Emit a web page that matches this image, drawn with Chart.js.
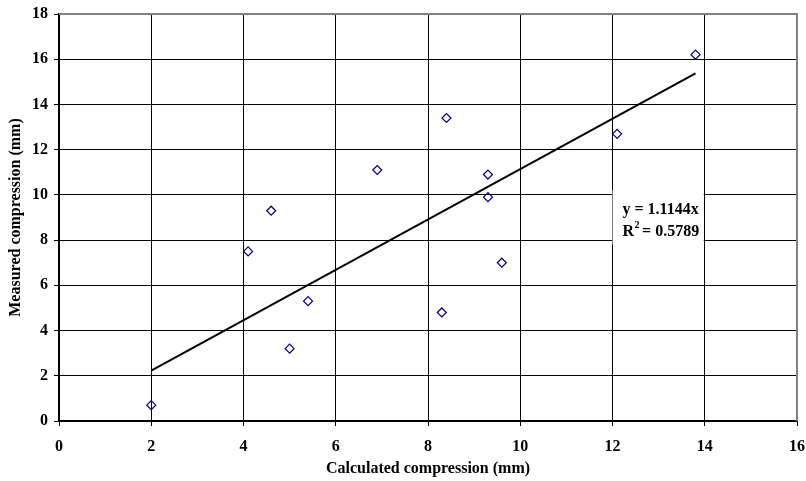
<!DOCTYPE html>
<html lang="en">
  <head>
    <meta charset="UTF-8" />
    <title>Measured vs calculated compression</title>
    <script src="https://cdn.jsdelivr.net/npm/chart.js"></script>
    <style>
      html, body { margin: 0; padding: 0; background: #fff; }
      #wrap { width: 806px; height: 481px; }
    </style>
  </head>
  <body>
    <div id="wrap"><canvas id="myChart"></canvas></div>
    <script>
      // calculated compression (mm)
      const calculated = [2.0, 4.1, 4.6, 5.0, 5.4, 6.9, 8.3, 8.4, 9.3, 9.3, 9.6, 12.1, 13.8];
      // measured compression (mm)
      const measured = [0.7, 7.5, 9.3, 3.2, 5.3, 11.1, 4.8, 13.4, 10.9, 9.9, 7.0, 12.7, 16.2];

      const xTicks = [0, 2, 4, 6, 8, 10, 12, 14, 16];
      const yTicks = [0, 2, 4, 6, 8, 10, 12, 14, 16, 18];

      // linear trend through origin
      const slope = 1.1144;
      const rSquared = 0.5789;
      const trendX = [Math.min(...calculated), Math.max(...calculated)];

      const font = { family: "'Liberation Serif', 'Times New Roman', serif", size: 16, weight: "bold" };

      // gray frame on top and right, white box behind the equation
      const framePlugin = {
        id: "frame",
        beforeDatasetsDraw(chart) {
          const { ctx, chartArea: a } = chart;
          ctx.save();
          ctx.strokeStyle = "#808080";
          ctx.lineWidth = 2;
          ctx.beginPath();
          ctx.moveTo(a.left, a.top);
          ctx.lineTo(a.right, a.top);
          ctx.lineTo(a.right, a.bottom);
          ctx.stroke();
          ctx.restore();
        },
        afterDatasetsDraw(chart) {
          const { ctx, scales } = chart;
          const x0 = scales.x.getPixelForValue(12.0);
          const x1 = scales.x.getPixelForValue(14.0) - 1;
          const y0 = scales.y.getPixelForValue(10.2);
          const y1 = scales.y.getPixelForValue(7.8);
          ctx.save();
          ctx.fillStyle = "#fff";
          ctx.fillRect(x0, y0, x1 - x0, y1 - y0);
          ctx.fillStyle = "#000";
          ctx.font = "bold 16px 'Liberation Serif', serif";
          ctx.textBaseline = "middle";
          const tx = x0 + 10;
          ctx.fillText("y = " + slope + "x", tx, y0 + 19);
          const r = "R";
          ctx.fillText(r, tx, y0 + 41);
          const rw = ctx.measureText(r).width;
          ctx.font = "bold 10px 'Liberation Serif', serif";
          ctx.fillText("2", tx + rw + 0.5, y0 + 35);
          ctx.font = "bold 16px 'Liberation Serif', serif";
          ctx.fillText(" = " + rSquared, tx + rw + 4, y0 + 41);
          ctx.restore();
        },
      };

      new Chart(document.getElementById("myChart"), {
        type: "scatter",
        data: {
          datasets: [
            {
              label: "Measured",
              data: calculated.map((x, i) => ({ x: x, y: measured[i] })),
              pointStyle: "rectRot",
              pointRadius: 4.5,
              pointBorderColor: "#000080",
              pointBackgroundColor: "rgba(255,255,255,0)",
              pointBorderWidth: 1.2,
              order: 1,
            },
            {
              label: "Linear",
              type: "line",
              data: trendX.map((x) => ({ x: x, y: slope * x })),
              borderColor: "#000",
              borderWidth: 2,
              pointRadius: 0,
              fill: false,
              order: 2,
            },
          ],
        },
        options: {
          responsive: true,
          maintainAspectRatio: false,
          animation: false,
          layout: { padding: { top: 14, right: 9, left: 0, bottom: 0 } },
          plugins: { legend: { display: false }, tooltip: { enabled: false } },
          scales: {
            x: {
              type: "linear",
              min: 0,
              max: 16,
              afterBuildTicks: (axis) => { axis.ticks = xTicks.map((v) => ({ value: v })); },
              afterFit: (axis) => {
                axis.height = 60;
                axis.paddingLeft = 0;
                axis.paddingRight = 0;
              },
              grid: { color: "#000", lineWidth: 1, tickLength: 5, drawTicks: true },
              border: { color: "#000", width: 1.5 },
              ticks: { color: "#000", font: font, padding: 11, maxRotation: 0 },
              title: { display: true, text: "Calculated compression (mm)", color: "#000", font: font, padding: { top: 4, bottom: 3 } },
            },
            y: {
              type: "linear",
              min: 0,
              max: 18,
              afterBuildTicks: (axis) => { axis.ticks = yTicks.map((v) => ({ value: v })); },
              afterFit: (axis) => {
                axis.width = 59;
                axis.paddingTop = 0;
                axis.paddingBottom = 0;
              },
              grid: { color: "#000", lineWidth: 1, tickLength: 5, drawTicks: true },
              border: { color: "#000", width: 1.5 },
              ticks: { color: "#000", font: font, padding: 6 },
              title: { display: true, text: "Measured compression (mm)", color: "#000", font: font, padding: { top: 6, bottom: 4 } },
            },
          },
        },
        plugins: [framePlugin],
      });
    </script>
  </body>
</html>
